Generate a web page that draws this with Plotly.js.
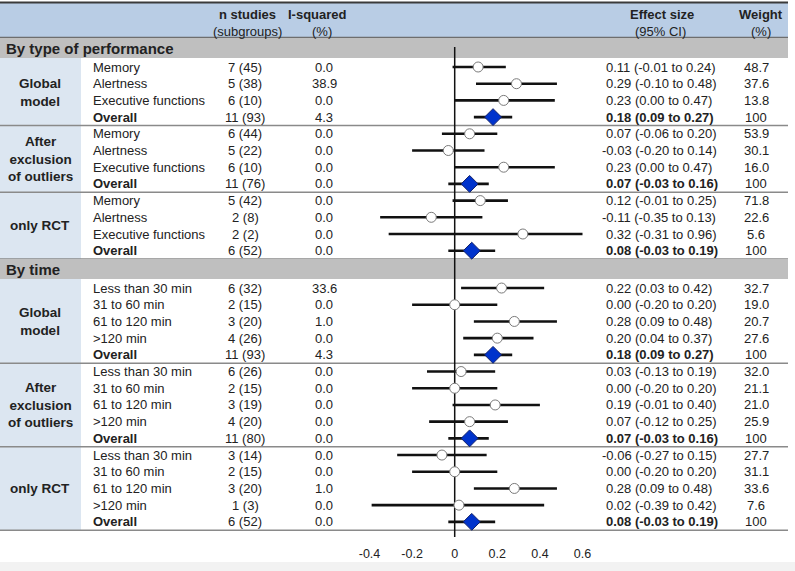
<!DOCTYPE html>
<html>
<head>
<meta charset="utf-8">
<script src="https://cdn.plot.ly/plotly-3.0.1.min.js"></script>
<style>html,body{margin:0;padding:0;background:#fff;}#chart{width:795px;height:571px;}</style>
</head>
<body>
<div id="chart"></div>
<script>
// ---------- DATA ----------
const sectionTitles = ['By type of performance', 'By time'];
const groupNames = ['Global<br>model', 'After<br>exclusion<br>of outliers', 'only RCT'];
const perfRowLabels = ['Memory', 'Alertness', 'Executive functions', 'Overall'];
const timeRowLabels = ['Less than 30 min', '31 to 60 min', '61 to 120 min', '>120 min', 'Overall'];

const perfN = ['7 (45)','5 (38)','6 (10)','11 (93)', '6 (44)','5 (22)','6 (10)','11 (76)', '5 (42)','2 (8)','2 (2)','6 (52)'];
const perfI2 = ['0.0','38.9','0.0','4.3', '0.0','0.0','0.0','0.0', '0.0','0.0','0.0','0.0'];
const perfEst = [0.11, 0.29, 0.23, 0.18, 0.07, -0.03, 0.23, 0.07, 0.12, -0.11, 0.32, 0.08];
const perfLo = [-0.01, 0.10, 0.00, 0.09, -0.06, -0.20, 0.00, -0.03, -0.01, -0.35, -0.31, -0.03];
const perfHi = [0.24, 0.48, 0.47, 0.27, 0.20, 0.14, 0.47, 0.16, 0.25, 0.13, 0.96, 0.19];
const perfCI = ['0.11 (-0.01 to 0.24)','0.29 (-0.10 to 0.48)','0.23 (0.00 to 0.47)','0.18 (0.09 to 0.27)',
                '0.07 (-0.06 to 0.20)','-0.03 (-0.20 to 0.14)','0.23 (0.00 to 0.47)','0.07 (-0.03 to 0.16)',
                '0.12 (-0.01 to 0.25)','-0.11 (-0.35 to 0.13)','0.32 (-0.31 to 0.96)','0.08 (-0.03 to 0.19)'];
const perfW = ['48.7','37.6','13.8','100', '53.9','30.1','16.0','100', '71.8','22.6','5.6','100'];

const timeN = ['6 (32)','2 (15)','3 (20)','4 (26)','11 (93)', '6 (26)','2 (15)','3 (19)','4 (20)','11 (80)', '3 (14)','2 (15)','3 (20)','1 (3)','6 (52)'];
const timeI2 = ['33.6','0.0','1.0','0.0','4.3', '0.0','0.0','0.0','0.0','0.0', '0.0','0.0','1.0','0.0','0.0'];
const timeEst = [0.22, 0.00, 0.28, 0.20, 0.18, 0.03, 0.00, 0.19, 0.07, 0.07, -0.06, 0.00, 0.28, 0.02, 0.08];
const timeLo = [0.03, -0.20, 0.09, 0.04, 0.09, -0.13, -0.20, -0.01, -0.12, -0.03, -0.27, -0.20, 0.09, -0.39, -0.03];
const timeHi = [0.42, 0.20, 0.48, 0.37, 0.27, 0.19, 0.20, 0.40, 0.25, 0.16, 0.15, 0.20, 0.48, 0.42, 0.19];
const timeCI = ['0.22 (0.03 to 0.42)','0.00 (-0.20 to 0.20)','0.28 (0.09 to 0.48)','0.20 (0.04 to 0.37)','0.18 (0.09 to 0.27)',
                '0.03 (-0.13 to 0.19)','0.00 (-0.20 to 0.20)','0.19 (-0.01 to 0.40)','0.07 (-0.12 to 0.25)','0.07 (-0.03 to 0.16)',
                '-0.06 (-0.27 to 0.15)','0.00 (-0.20 to 0.20)','0.28 (0.09 to 0.48)','0.02 (-0.39 to 0.42)','0.08 (-0.03 to 0.19)'];
const timeW = ['32.7','19.0','20.7','27.6','100', '32.0','21.1','21.0','25.9','100', '27.7','31.1','33.6','7.6','100'];

const tickVals = [-0.4, -0.2, 0, 0.2, 0.4, 0.6];
const tickText = ['-0.4', '-0.2', '0', '0.2', '0.4', '0.6'];

// ---------- LAYOUT HELPERS ----------
const W = 795, H = 571;
const FONT = '"Liberation Sans", Arial, sans-serif';
const TXT = '#222222';
const X0 = 454.7, PXU = 213;            // pixel of 0 and pixels per unit
const xr = [-X0 / PXU, (W - X0) / PXU];
const AXMAX = 0.6;
const ROW = 16.7;
const px = v => v / W;                    // pixel -> paper x
const RIGHT = 788;

const sections = [
  {title: sectionTitles[0], labels: perfRowLabels, n: perfN, i2: perfI2, est: perfEst, lo: perfLo, hi: perfHi, ci: perfCI, w: perfW},
  {title: sectionTitles[1], labels: timeRowLabels, n: timeN, i2: timeI2, est: timeEst, lo: timeLo, hi: timeHi, ci: timeCI, w: timeW}
];

const shapes = [], annotations = [];
const ann = (x, y, text, opt) => annotations.push(Object.assign({
  xref: 'paper', yref: 'y', x: px(x), y: y, text: text, showarrow: false,
  xanchor: 'center', yanchor: 'middle',
  font: {family: FONT, size: 13, color: TXT}
}, opt || {}));
const rect = (x0, y0, x1, y1, color) => shapes.push({type: 'rect', xref: 'paper', yref: 'y',
  x0: px(x0), x1: px(x1), y0: y0, y1: y1, fillcolor: color, line: {width: 0}, layer: 'below'});
const hline = (y, color, w) => shapes.push({type: 'line', xref: 'paper', yref: 'y',
  x0: 0, x1: px(RIGHT), y0: y, y1: y, line: {color: color, width: w}, layer: 'below'});

// header
rect(0, 3, RIGHT, 37, '#b9cde5');
hline(2.5, '#3a3a3a', 2);
hline(37.5, '#6e6e6e', 1.5);
ann(247, 14, '<b>n studies</b>');
ann(247, 31, '(subgroups)');
ann(317, 14, '<b>I-squared</b>');
ann(322, 31, '(%)');
ann(662, 14, '<b>Effect size</b>');
ann(660, 31, '(95% CI)');
ann(761, 14, '<b>Weight</b>');
ann(761, 31, '(%)');

const ciX = [], ciY = [];
const circX = [], circY = [], diaX = [], diaY = [];

let curTop = 38;
sections.forEach(sec => {
  const per = sec.labels.length;
  rect(0, curTop, RIGHT, curTop + 20, '#bfbfbf');
  ann(4, curTop + 10, '<b>' + sec.title + '</b>', {xanchor: 'left', font: {family: FONT, size: 15, color: TXT}});
  const first = curTop + 29;
  const nGroups = sec.est.length / per;
  const lastY = first + (sec.est.length - 1) * ROW;
  rect(0, curTop + 20, 81, lastY + ROW / 2, '#dce6f1');
  for (let g = 0; g < nGroups; g++) {
    const gy0 = first + g * per * ROW;
    const gy1 = gy0 + (per - 1) * ROW;
    ann(40, (gy0 + gy1) / 2, '<b>' + groupNames[g] + '</b>', {font: {family: FONT, size: 13.5, color: TXT}});
    hline(gy1 + ROW / 2, '#8a8a8a', 1.5);
    for (let r = 0; r < per; r++) {
      const i = g * per + r;
      const y = gy0 + r * ROW;
      const overall = r === per - 1;
      ann(91, y, overall ? '<b>' + sec.labels[r] + '</b>' : sec.labels[r], {xanchor: 'left'});
      ann(245, y, sec.n[i]);
      ann(324, y, sec.i2[i]);
      const neg = sec.ci[i].charAt(0) === '-';
      ann(604 - (neg ? 4.3 : 0), y, overall ? '<b>' + sec.ci[i] + '</b>' : sec.ci[i], {xanchor: 'left'});
      ann(756, y, sec.w[i]);
      ciX.push(sec.lo[i], Math.min(sec.hi[i], AXMAX), null);
      ciY.push(y, y, null);
      if (overall) { diaX.push(sec.est[i]); diaY.push(y); }
      else { circX.push(sec.est[i]); circY.push(y); }
    }
  }
  curTop = lastY + ROW / 2;
});

// zero line
shapes.push({type: 'line', xref: 'x', yref: 'y', x0: 0, x1: 0, y0: 47, y1: 537,
  line: {color: '#111', width: 1.5}, layer: 'below'});
// bottom page strip
shapes.push({type: 'rect', xref: 'paper', yref: 'y', x0: 0, x1: 1, y0: 562, y1: H,
  fillcolor: '#f2f2f2', line: {width: 0}, layer: 'below'});

const traces = [
  {type: 'scatter', mode: 'lines', x: ciX, y: ciY, line: {color: '#111', width: 2.6}, hoverinfo: 'skip', cliponaxis: false},
  {type: 'scatter', mode: 'markers', x: circX, y: circY,
   marker: {symbol: 'circle', size: 10, color: '#ffffff', line: {color: '#7a7a7a', width: 1}}},
  {type: 'scatter', mode: 'markers', x: diaX, y: diaY,
   marker: {symbol: 'diamond', size: 13, color: '#0033cc', line: {color: '#10206a', width: 1}}}
];

const layout = {
  width: W, height: H,
  margin: {l: 0, r: 0, t: 0, b: 0},
  paper_bgcolor: '#ffffff', plot_bgcolor: 'rgba(0,0,0,0)',
  showlegend: false,
  xaxis: {range: xr, domain: [0, 1], anchor: 'free', position: (H - 544) / H,
          tickvals: tickVals, ticktext: tickText, showgrid: false, zeroline: false,
          showline: false, ticks: '', fixedrange: true,
          tickfont: {family: FONT, size: 12.5, color: TXT}},
  yaxis: {range: [H, 0], domain: [0, 1], visible: false, fixedrange: true},
  shapes: shapes,
  annotations: annotations,
  font: {family: FONT}
};

Plotly.newPlot('chart', traces, layout, {displayModeBar: false, staticPlot: true});
</script>
</body>
</html>
